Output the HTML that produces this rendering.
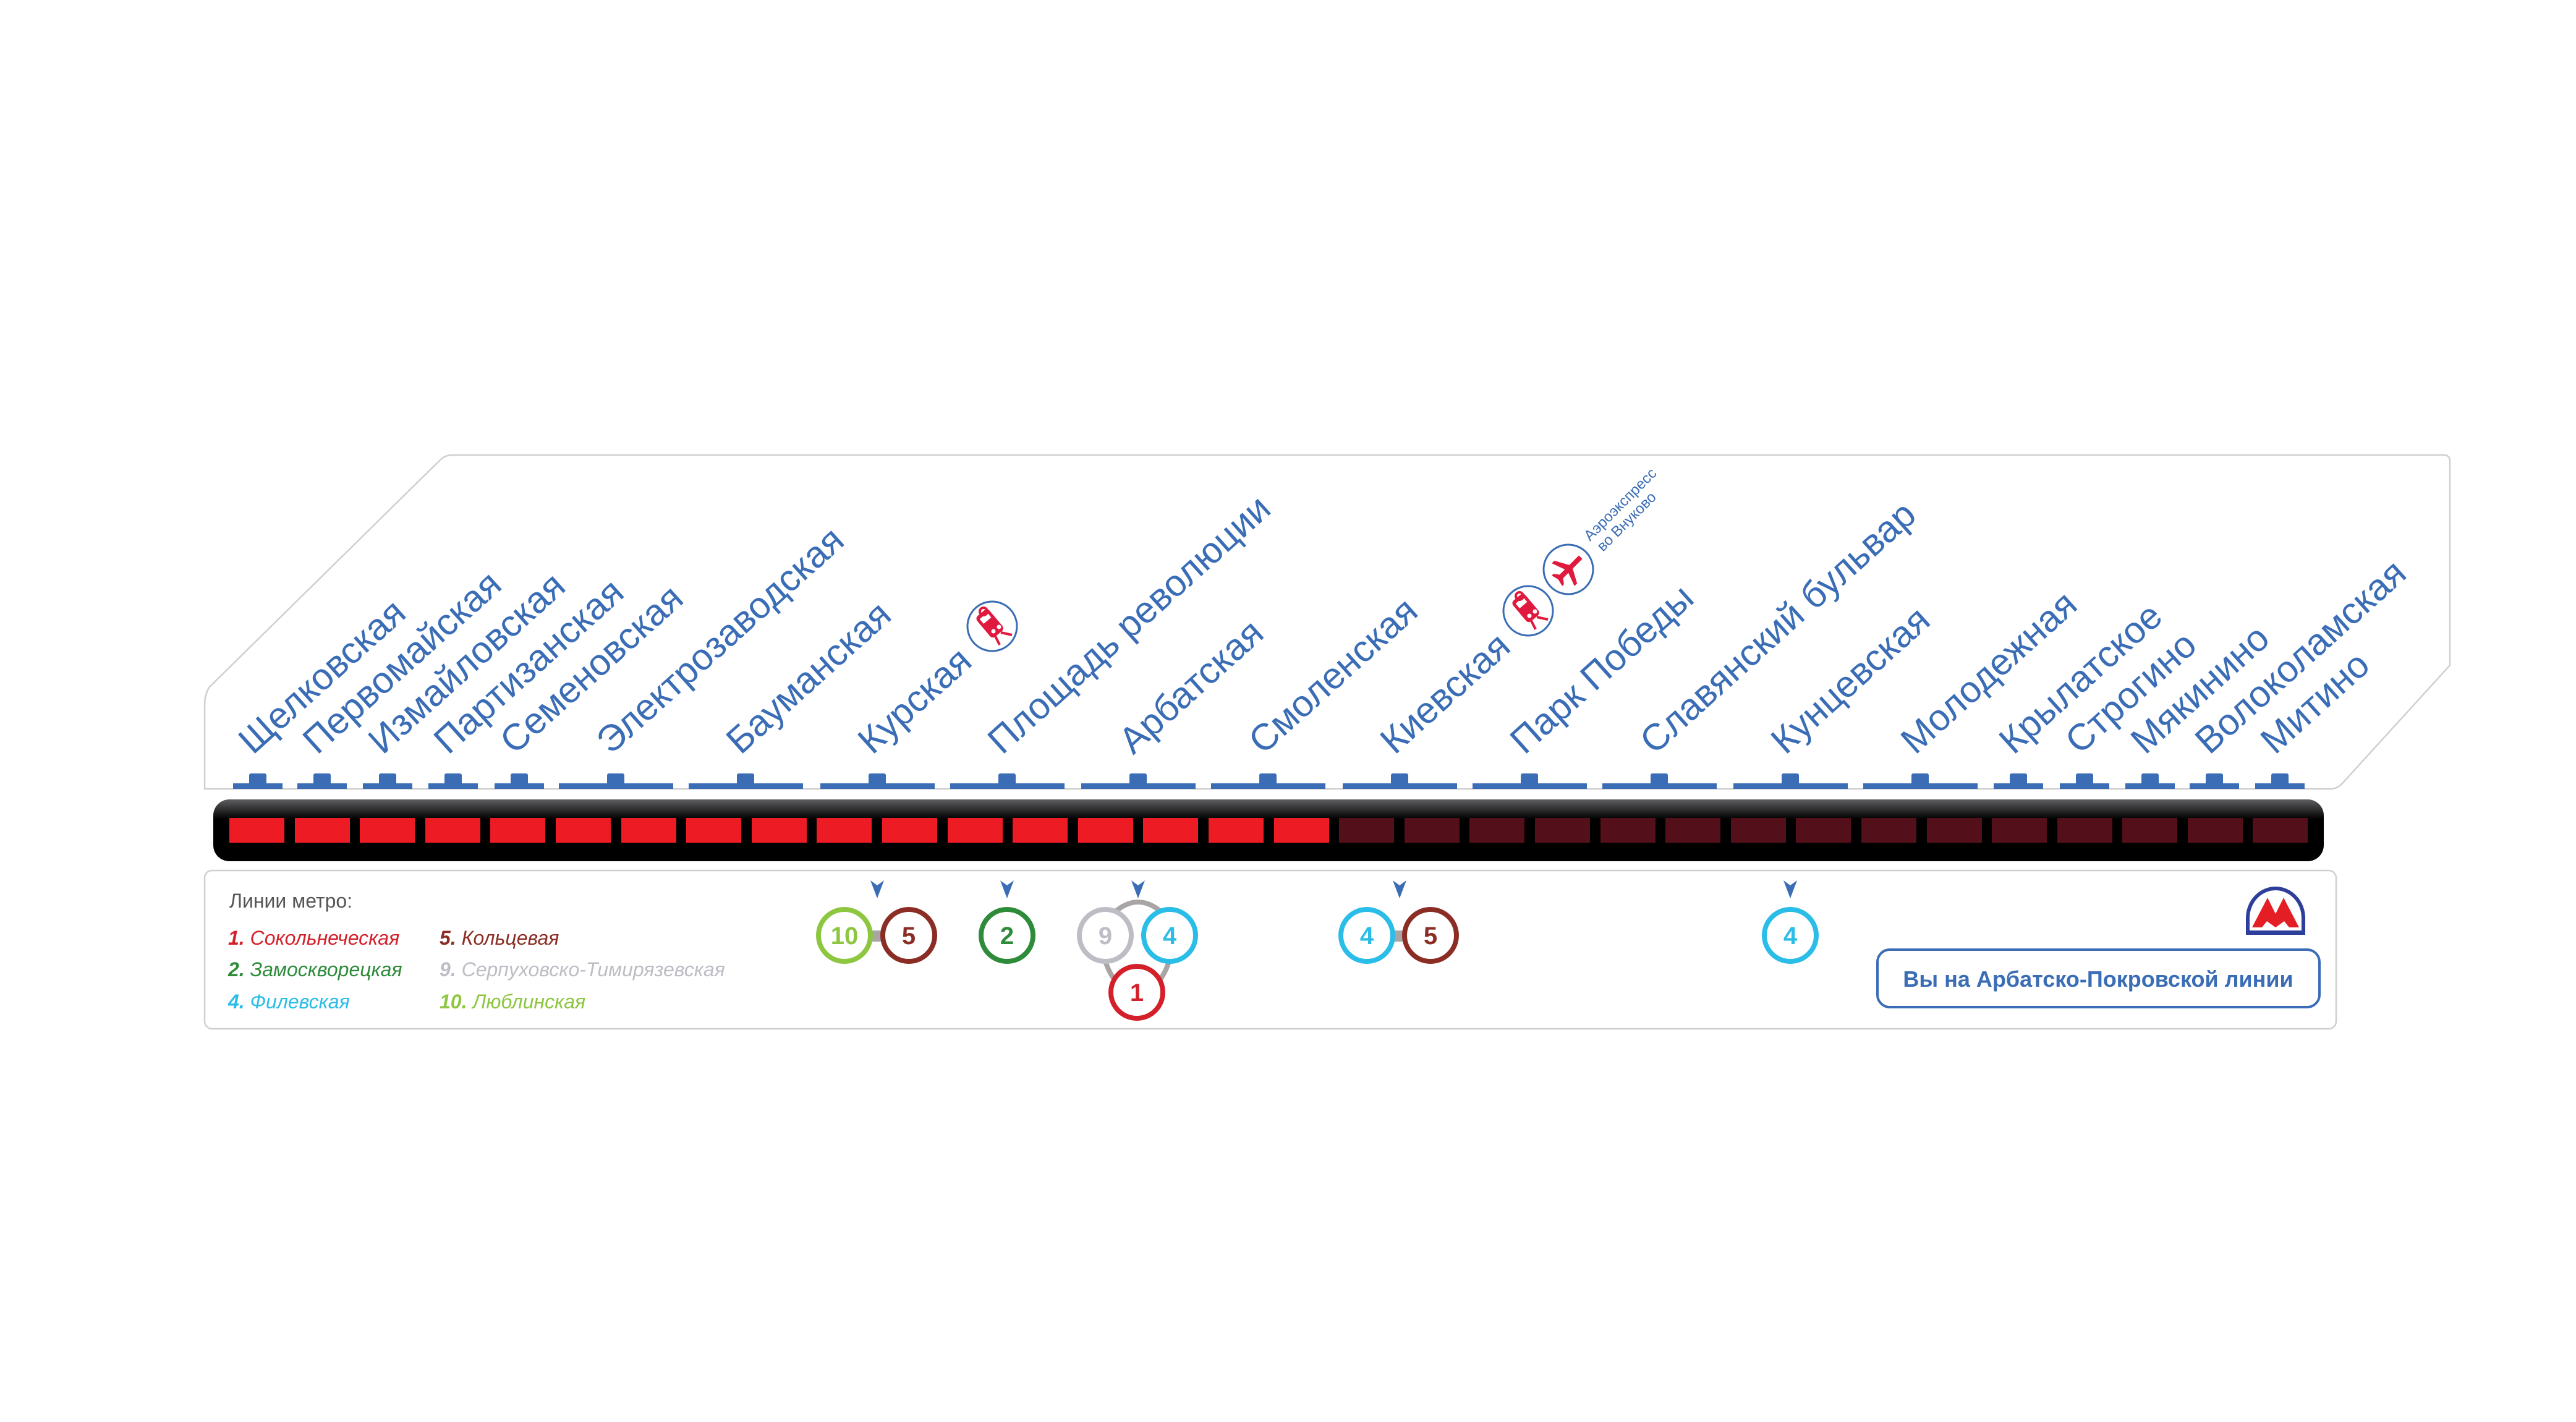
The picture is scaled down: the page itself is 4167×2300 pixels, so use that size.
<!DOCTYPE html>
<html><head><meta charset="utf-8"><style>
html,body{margin:0;padding:0;background:#fff;}
svg{display:block;}
</style></head><body>
<svg width="4167" height="2300" viewBox="0 0 4167 2300" xmlns="http://www.w3.org/2000/svg">
<defs>
<linearGradient id="tg" x1="0" y1="0" x2="0" y2="1">
<stop offset="0" stop-color="#5e5e62"/>
<stop offset="0.32" stop-color="#000"/>
<stop offset="1" stop-color="#000"/>
</linearGradient>
<g id="train">
<rect x="-13" y="-28" width="26" height="44" rx="6" fill="#e0193f" transform="rotate(-40)"/>
<rect x="-8" y="-22" width="16" height="10" fill="#fff" transform="rotate(-40)"/>
<circle cx="-14" cy="-24" r="6" fill="none" stroke="#e0193f" stroke-width="4"/>
<circle cx="2" cy="8" r="3.5" fill="#fff"/><circle cx="11" cy="1" r="3.5" fill="#fff"/>
<path d="M4 14 L12 30 M14 10 L32 14" stroke="#e0193f" stroke-width="4"/>
</g>
</defs>

<path d="M331 1276 L331 1140 Q331 1125 338 1112 L712 744 Q720 736 732 736 L3953 736 Q3963 736 3963 746 L3963 1076 L3790 1266 Q3781 1276 3770 1276 Z" fill="#fff" stroke="#cfcfcf" stroke-width="2.5"/>
<rect x="331" y="1408" width="3448" height="256" rx="12" fill="#fff" stroke="#cfcfcf" stroke-width="2.5"/>

<rect x="345" y="1293" width="3414" height="100" rx="26" fill="url(#tg)"/>

<g font-family="'Liberation Sans', sans-serif" font-size="60" fill="#3a6db5">
<g fill="#3a6db5">
<rect x="377" y="1267" width="80" height="9"/><rect x="403" y="1251" width="28" height="20" rx="3"/>
<rect x="481" y="1267" width="80" height="9"/><rect x="507" y="1251" width="28" height="20" rx="3"/>
<rect x="587" y="1267" width="80" height="9"/><rect x="613" y="1251" width="28" height="20" rx="3"/>
<rect x="693" y="1267" width="80" height="9"/><rect x="719" y="1251" width="28" height="20" rx="3"/>
<rect x="800" y="1267" width="80" height="9"/><rect x="826" y="1251" width="28" height="20" rx="3"/>
<rect x="904" y="1267" width="185" height="9"/><rect x="982" y="1251" width="28" height="20" rx="3"/>
<rect x="1114" y="1267" width="185" height="9"/><rect x="1192" y="1251" width="28" height="20" rx="3"/>
<rect x="1327" y="1267" width="185" height="9"/><rect x="1405" y="1251" width="28" height="20" rx="3"/>
<rect x="1537" y="1267" width="185" height="9"/><rect x="1615" y="1251" width="28" height="20" rx="3"/>
<rect x="1749" y="1267" width="185" height="9"/><rect x="1827" y="1251" width="28" height="20" rx="3"/>
<rect x="1959" y="1267" width="185" height="9"/><rect x="2037" y="1251" width="28" height="20" rx="3"/>
<rect x="2172" y="1267" width="185" height="9"/><rect x="2250" y="1251" width="28" height="20" rx="3"/>
<rect x="2382" y="1267" width="185" height="9"/><rect x="2460" y="1251" width="28" height="20" rx="3"/>
<rect x="2592" y="1267" width="185" height="9"/><rect x="2670" y="1251" width="28" height="20" rx="3"/>
<rect x="2804" y="1267" width="185" height="9"/><rect x="2882" y="1251" width="28" height="20" rx="3"/>
<rect x="3014" y="1267" width="185" height="9"/><rect x="3092" y="1251" width="28" height="20" rx="3"/>
<rect x="3225" y="1267" width="80" height="9"/><rect x="3251" y="1251" width="28" height="20" rx="3"/>
<rect x="3332" y="1267" width="80" height="9"/><rect x="3358" y="1251" width="28" height="20" rx="3"/>
<rect x="3438" y="1267" width="80" height="9"/><rect x="3464" y="1251" width="28" height="20" rx="3"/>
<rect x="3542" y="1267" width="80" height="9"/><rect x="3568" y="1251" width="28" height="20" rx="3"/>
<rect x="3648" y="1267" width="80" height="9"/><rect x="3674" y="1251" width="28" height="20" rx="3"/>
</g>
<text transform="translate(409,1222) rotate(-42)">Щелковская</text>
<text transform="translate(513,1222) rotate(-42)">Первомайская</text>
<text transform="translate(619,1222) rotate(-42)">Измайловская</text>
<text transform="translate(725,1222) rotate(-42)">Партизанская</text>
<text transform="translate(832,1222) rotate(-42)">Семеновская</text>
<text transform="translate(988,1222) rotate(-42)">Электрозаводская</text>
<text transform="translate(1198,1222) rotate(-42)">Бауманская</text>
<text transform="translate(1411,1222) rotate(-42)">Курская</text>
<text transform="translate(1621,1222) rotate(-42)">Площадь революции</text>
<text transform="translate(1833,1222) rotate(-42)">Арбатская</text>
<text transform="translate(2043,1222) rotate(-42)">Смоленская</text>
<text transform="translate(2256,1222) rotate(-42)">Киевская</text>
<text transform="translate(2466,1222) rotate(-42)">Парк Победы</text>
<text transform="translate(2676,1222) rotate(-42)">Славянский бульвар</text>
<text transform="translate(2888,1222) rotate(-42)">Кунцевская</text>
<text transform="translate(3098,1222) rotate(-42)">Молодежная</text>
<text transform="translate(3257,1222) rotate(-42)">Крылатское</text>
<text transform="translate(3364,1222) rotate(-42)">Строгино</text>
<text transform="translate(3470,1222) rotate(-42)">Мякинино</text>
<text transform="translate(3574,1222) rotate(-42)">Волоколамская</text>
<text transform="translate(3680,1222) rotate(-42)">Митино</text>
<text font-size="24" transform="translate(2572,876) rotate(-45)">Аэроэкспресс</text>
<text font-size="24" transform="translate(2593,893) rotate(-45)">во Внуково</text>
</g>

<circle cx="1605" cy="1013" r="40" fill="#fff" stroke="#3a6db5" stroke-width="3"/>
<use href="#train" transform="translate(1605,1013)"/>
<circle cx="2472" cy="988" r="40" fill="#fff" stroke="#3a6db5" stroke-width="3"/>
<use href="#train" transform="translate(2472,988)"/>
<circle cx="2537" cy="921" r="40" fill="#fff" stroke="#3a6db5" stroke-width="3"/>
<g transform="translate(2537,921) rotate(-45)" fill="#e0193f">
<path d="M-4 -28 L4 -28 L4 -6 L26 6 L26 12 L4 4 L4 16 L12 22 L12 26 L0 23 L-12 26 L-12 22 L-4 16 L-4 4 L-26 12 L-26 6 L-4 -6 Z" transform="rotate(90)"/>
</g>

<g font-family="'Liberation Sans Narrow','Liberation Sans',sans-serif" font-size="32">
<text x="371" y="1468" fill="#555">Линии метро:</text>
<g font-style="italic">
<text x="369" y="1528" fill="#d4202a"><tspan font-weight="bold">1.</tspan> Сокольнеческая</text>
<text x="369" y="1579" fill="#2e8b3a"><tspan font-weight="bold">2.</tspan> Замоскворецкая</text>
<text x="369" y="1631" fill="#29bde8"><tspan font-weight="bold">4.</tspan> Филевская</text>
<text x="711" y="1528" fill="#8b2d24"><tspan font-weight="bold">5.</tspan> Кольцевая</text>
<text x="711" y="1579" fill="#bdbdc6"><tspan font-weight="bold">9.</tspan> Серпуховско-Тимирязевская</text>
<text x="711" y="1631" fill="#8dc63f"><tspan font-weight="bold">10.</tspan> Люблинская</text>
</g>
</g>

<g fill="#3a6db5">
<path d="M1408 1424 L1419 1432 L1430 1424 L1419 1453 Z"/>
<path d="M1618 1424 L1629 1432 L1640 1424 L1629 1453 Z"/>
<path d="M1830 1424 L1841 1432 L1852 1424 L1841 1453 Z"/>
<path d="M2253 1424 L2264 1432 L2275 1424 L2264 1453 Z"/>
<path d="M2885 1424 L2896 1432 L2907 1424 L2896 1453 Z"/>
</g>

<g font-family="'Liberation Sans',sans-serif" font-weight="bold" font-size="40" text-anchor="middle">
<rect x="1405" y="1505" width="30" height="18" fill="#aaa5a5"/>
<circle cx="1366" cy="1513" r="42" fill="#fff" stroke="#8dc63f" stroke-width="8"/>
<text x="1366" y="1527" fill="#8dc63f">10</text>
<circle cx="1470" cy="1513" r="42" fill="#fff" stroke="#8b2d24" stroke-width="8"/>
<text x="1470" y="1527" fill="#8b2d24">5</text>
<circle cx="1629" cy="1513" r="42" fill="#fff" stroke="#2e8b3a" stroke-width="8"/>
<text x="1629" y="1527" fill="#2e8b3a">2</text>

<path d="M1800 1478 Q1841 1440 1882 1478" fill="none" stroke="#aaa5a5" stroke-width="8"/>
<path d="M1785 1545 Q1800 1600 1839 1610 Q1880 1600 1894 1545" fill="none" stroke="#aaa5a5" stroke-width="8"/>
<circle cx="1788" cy="1513" r="42" fill="#fff" stroke="#bdbdc6" stroke-width="8"/>
<text x="1788" y="1527" fill="#bdbdc6">9</text>
<circle cx="1892" cy="1513" r="42" fill="#fff" stroke="#29bde8" stroke-width="8"/>
<text x="1892" y="1527" fill="#29bde8">4</text>
<circle cx="1839" cy="1605" r="42" fill="#fff" stroke="#d4202a" stroke-width="8"/>
<text x="1839" y="1619" fill="#d4202a">1</text>

<rect x="2250" y="1505" width="30" height="18" fill="#aaa5a5"/>
<circle cx="2211" cy="1513" r="42" fill="#fff" stroke="#29bde8" stroke-width="8"/>
<text x="2211" y="1527" fill="#29bde8">4</text>
<circle cx="2314" cy="1513" r="42" fill="#fff" stroke="#8b2d24" stroke-width="8"/>
<text x="2314" y="1527" fill="#8b2d24">5</text>
<circle cx="2896" cy="1513" r="42" fill="#fff" stroke="#29bde8" stroke-width="8"/>
<text x="2896" y="1527" fill="#29bde8">4</text>
</g>

<path d="M3636 1510 L3636 1485 A45 48 0 0 1 3726 1485 L3726 1510" fill="none" stroke="#2d3f9a" stroke-width="6"/>
<rect x="3633" y="1505" width="96" height="7" fill="#2d3f9a"/>
<path d="M3643 1500 L3668 1452 L3681 1478 L3694 1452 L3719 1500 L3703 1500 L3695 1490 L3681 1500 L3667 1490 L3659 1500 Z" fill="#e31e24"/>

<rect x="3037" y="1536" width="715" height="93" rx="20" fill="#fff" stroke="#3a6db5" stroke-width="4"/>
<text x="3394" y="1596" text-anchor="middle" font-family="'Liberation Sans Narrow','Liberation Sans',sans-serif" font-weight="bold" font-size="36" fill="#3a6db5">Вы на Арбатско-Покровской линии</text>

<g>
<rect x="371" y="1323" width="89" height="40" fill="#ed1c24"/>
<rect x="477" y="1323" width="89" height="40" fill="#ed1c24"/>
<rect x="582" y="1323" width="89" height="40" fill="#ed1c24"/>
<rect x="688" y="1323" width="89" height="40" fill="#ed1c24"/>
<rect x="793" y="1323" width="89" height="40" fill="#ed1c24"/>
<rect x="899" y="1323" width="89" height="40" fill="#ed1c24"/>
<rect x="1005" y="1323" width="89" height="40" fill="#ed1c24"/>
<rect x="1110" y="1323" width="89" height="40" fill="#ed1c24"/>
<rect x="1216" y="1323" width="89" height="40" fill="#ed1c24"/>
<rect x="1321" y="1323" width="89" height="40" fill="#ed1c24"/>
<rect x="1427" y="1323" width="89" height="40" fill="#ed1c24"/>
<rect x="1533" y="1323" width="89" height="40" fill="#ed1c24"/>
<rect x="1638" y="1323" width="89" height="40" fill="#ed1c24"/>
<rect x="1744" y="1323" width="89" height="40" fill="#ed1c24"/>
<rect x="1849" y="1323" width="89" height="40" fill="#ed1c24"/>
<rect x="1955" y="1323" width="89" height="40" fill="#ed1c24"/>
<rect x="2061" y="1323" width="89" height="40" fill="#ed1c24"/>
<rect x="2166" y="1323" width="89" height="40" fill="#54101a"/>
<rect x="2272" y="1323" width="89" height="40" fill="#54101a"/>
<rect x="2377" y="1323" width="89" height="40" fill="#54101a"/>
<rect x="2483" y="1323" width="89" height="40" fill="#54101a"/>
<rect x="2589" y="1323" width="89" height="40" fill="#54101a"/>
<rect x="2694" y="1323" width="89" height="40" fill="#54101a"/>
<rect x="2800" y="1323" width="89" height="40" fill="#54101a"/>
<rect x="2905" y="1323" width="89" height="40" fill="#54101a"/>
<rect x="3011" y="1323" width="89" height="40" fill="#54101a"/>
<rect x="3117" y="1323" width="89" height="40" fill="#54101a"/>
<rect x="3222" y="1323" width="89" height="40" fill="#54101a"/>
<rect x="3328" y="1323" width="89" height="40" fill="#54101a"/>
<rect x="3433" y="1323" width="89" height="40" fill="#54101a"/>
<rect x="3539" y="1323" width="89" height="40" fill="#54101a"/>
<rect x="3644" y="1323" width="89" height="40" fill="#54101a"/>
</g>
</svg>
</body></html>
